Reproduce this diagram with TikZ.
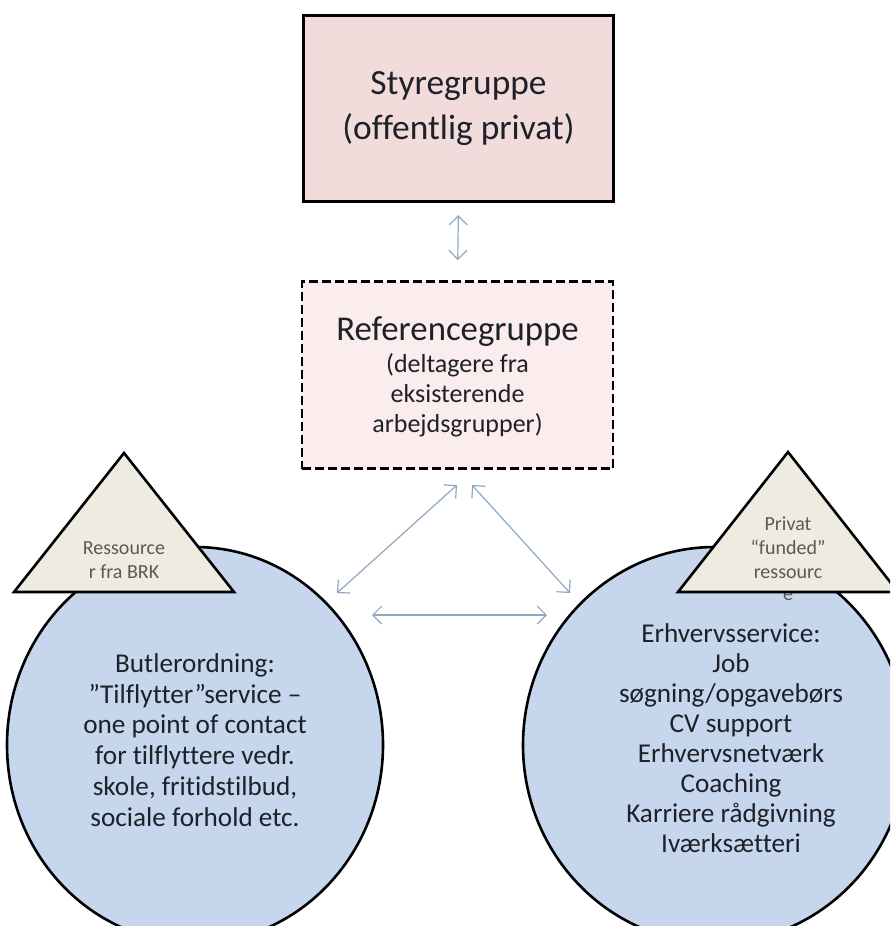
\documentclass[tikz,border=0pt]{standalone}
\usepackage{fontspec}
\setmainfont[Ligatures=NoCommon]{Carlito}
\usetikzlibrary{arrows.meta}
\usetikzlibrary{shapes}
\definecolor{styrefill}{HTML}{F2DCDB}
\definecolor{reffill}{HTML}{FBEDED}
\definecolor{bluefill}{HTML}{C6D6EC}
\definecolor{trifill}{HTML}{EEECE1}
\definecolor{linkcol}{HTML}{8EA8C2}
\definecolor{txtdark}{HTML}{1E2129}
\definecolor{txtgray}{HTML}{595959}
\newcommand{\restri}[2]{\draw[line width=1.3pt, fill=trifill, line join=miter] ( #1 , #2 ) -- ( #1-110 , 592 ) -- ( #1+110 , 592 ) -- cycle;}
\tikzset{
  link/.style={draw=linkcol, line width=0.6pt, {Straight Barb[length=4.5pt,width=9pt]}-{Straight Barb[length=4.5pt,width=9pt]}},
  bubble/.style={ellipse, draw, line width=1.3pt, fill=bluefill, minimum width=#1, minimum height=198pt, inner sep=0pt},
  bubtext/.style={align=center, text=txtdark, font=\fontsize{13.6}{15.4}\selectfont},
  tritext/.style={align=center, text=txtgray, font=\fontsize{10}{12}\selectfont}
}
\begin{document}
\begin{tikzpicture}[x=0.5pt,y=-0.5pt]
        \clip (0,0) rectangle (890,926);
        % boxes
        \node[draw, line width=1.6pt, fill=styrefill, minimum width=155pt, minimum height=93pt,
              align=center, text=txtdark, font=\fontsize{17.7}{22.5}\selectfont] (styre) at (458.5,108.5)
              {Styregruppe\\(offentlig privat)};
        \node[draw, line width=1.4pt, dash pattern=on 4.5pt off 2pt, fill=reffill, minimum width=155.5pt,
              minimum height=93.5pt] (ref) at (457.5,375) {};
        \node[align=center, text=txtdark, font=\fontsize{17.4}{20}\selectfont] (reftitle) at (457.5,332) {Referencegruppe};
        \node[align=center, text=txtdark, font=\fontsize{13}{15}\selectfont] (refsub) at (457.5,395)
              {(deltagere fra\\eksisterende\\arbejdsgrupper)};

        % bubbles
        \node[bubble=188pt] (butler) at (195,745) {};
        \node[bubble=192pt] (erhv) at (715,745) {};
        \node[bubtext] (butlertext) at (195,740)
              {Butlerordning:\\”Tilflytter”service –\\one point of contact\\for tilflyttere vedr.\\skole, fritidstilbud,\\sociale forhold etc.};
        \node[bubtext, font=\fontsize{13.6}{15}\selectfont] (erhvtext) at (731,738)
              {Erhvervsservice:\\Job\\søgning/opgavebørs\\CV support\\Erhvervsnetværk\\Coaching\\Karriere rådgivning\\Iværksætteri};

        % triangles
        \node[tritext] (private) at (788,596) {e};
        \restri{124}{453}
        \restri{788}{452}
        \node[tritext] (brk) at (124,560) {Ressource\\r fra BRK};
        \node[tritext] (privat) at (788,548) {Privat\\“funded”\\ressourc};

        % connectors
        \coordinate (refL) at (457,485);
        \coordinate (refR) at (472,485);
        \coordinate (butlerN) at (337,593);
        \coordinate (erhvN) at (570,593);
        \coordinate (butlerE) at (372,615);
        \coordinate (erhvW) at (547,615);
        \draw[link, shorten >=10pt, shorten <=6pt] (styre.south) -- (ref.north);
        \draw[link] (refL) -- (butlerN);
        \draw[link] (refR) -- (erhvN);
        \draw[link] (butlerE) -- (erhvW);
    \end{tikzpicture}
\end{document}
